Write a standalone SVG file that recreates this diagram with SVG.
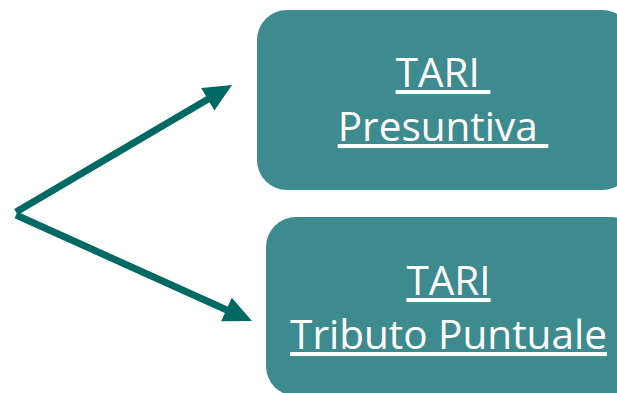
<svg xmlns="http://www.w3.org/2000/svg" width="617" height="393" viewBox="0 0 617 393">
<style>
.box{fill:#3d8b8f;}
.lbl{font-family:"Open Sans","Noto Sans",sans-serif;font-size:40.5px;fill:#ffffff;text-anchor:middle;text-decoration:underline;}
.conn{stroke:#006964;stroke-width:7;fill:none;stroke-linecap:butt;}
.head{fill:#006964;}
</style>
<rect width="617" height="393" fill="#ffffff"/>
<g id="connectors">
<line class="conn" x1="16" y1="212" x2="210" y2="98"/>
<polygon class="head" points="232,85 214.4,110.4 201.2,88"/>
<line class="conn" x1="16" y1="215" x2="229" y2="311"/>
<polygon class="head" points="252,321 221.2,321.3 231.8,297.7"/>
</g>
<g id="node-presuntiva">
<rect class="box" x="257" y="10" width="375" height="180" rx="30" ry="30"/>
<text class="lbl" xml:space="preserve"><tspan x="443" y="87">TARI </tspan><tspan x="443" y="141">Presuntiva </tspan></text>
</g>
<g id="node-puntuale">
<rect class="box" x="266" y="217" width="375" height="179" rx="30" ry="30"/>
<text class="lbl"><tspan x="448.5" y="295">TARI</tspan><tspan x="448.5" y="349">Tributo Puntuale</tspan></text>
</g>
</svg>
